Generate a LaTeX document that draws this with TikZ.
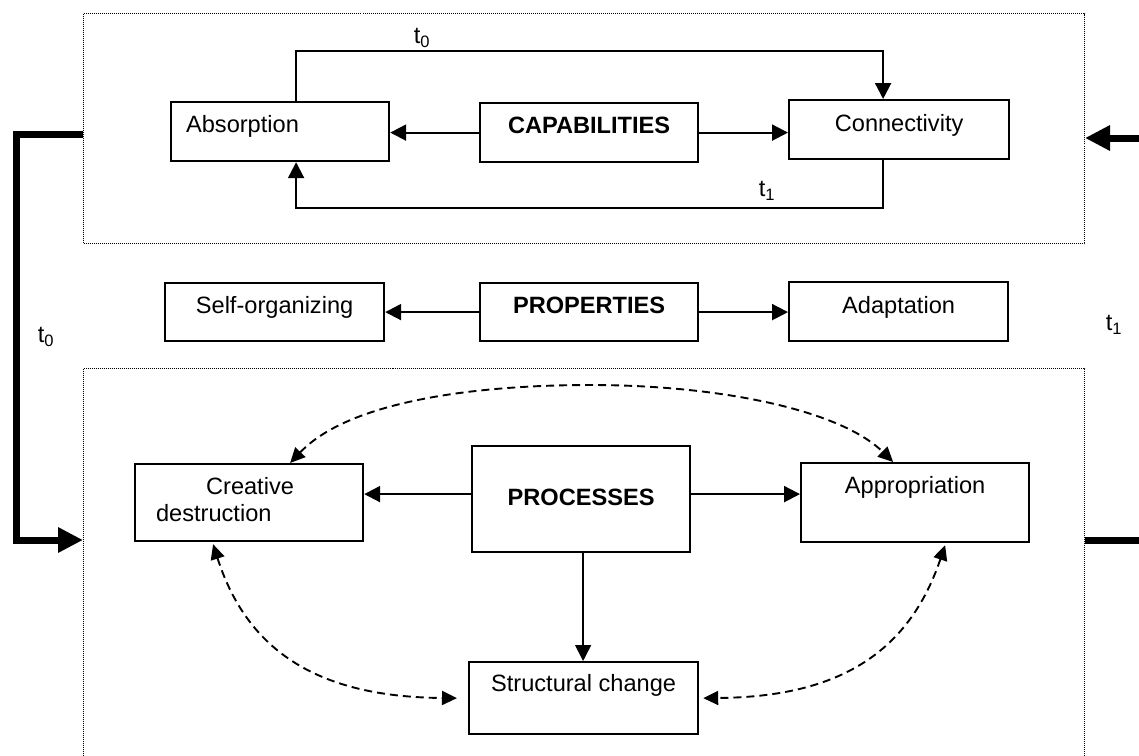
\documentclass[tikz,border=0pt]{standalone}
\usepackage{fontspec}
\setmainfont{Liberation Sans}
\usetikzlibrary{arrows.meta}
\newcommand{\fsz}{\fontsize{23.6}{27}\selectfont}
\begin{document}
\begin{tikzpicture}[x=1pt,y=-1pt,
  box/.style={draw, line width=2.2pt, anchor=north west, inner sep=0pt, font=\fsz},
  frame/.style={draw, line width=1pt, dash pattern=on 1pt off 1pt, anchor=north west, inner sep=0pt},
  arr/.style={line width=2.1pt, -{Triangle[length=16pt,width=16pt]}},
  thinarr/.style={line width=1.6pt, -{Triangle[length=16pt,width=16pt]}},
  darr/.style={line width=1.9pt, dash pattern=on 8pt off 5pt, {Triangle[length=15pt,width=14pt]}-{Triangle[length=15pt,width=14pt]}},
  thickline/.style={line width=7pt},
  thickarr/.style={line width=7pt, -{Triangle[length=25pt,width=24pt]}},
  lbl/.style={font=\fsz, inner sep=0pt}]
\useasboundingbox (0,0) rectangle (1139,755);
% frames
\node[frame, minimum width=1001pt, minimum height=230pt] (topframe) at (83,13) {};
\node[frame, minimum width=1001pt, minimum height=430pt] (botframe) at (83,368) {};
% capabilities row
\node[box, minimum width=218pt, minimum height=59pt, text height=30pt, text depth=29pt] (abs) at (170,101) {\makebox[188pt][l]{Absorption}};
\node[box, minimum width=218pt, minimum height=59pt, text height=30pt, text depth=29pt, font=\fsz\bfseries] (cap) at (479,102) {CAPABILITIES};
\node[box, minimum width=220pt, minimum height=59pt, text height=31pt, text depth=28pt] (con) at (788,99) {Connectivity};
% properties row
\node[box, minimum width=219pt, minimum height=58pt, text height=30pt, text depth=28pt] (self) at (164,282) {Self-organizing};
\node[box, minimum width=218pt, minimum height=58pt, text height=30pt, text depth=28pt, font=\fsz\bfseries] (prop) at (479,282) {PROPERTIES};
\node[box, minimum width=219pt, minimum height=59pt, text height=31pt, text depth=28pt] (adap) at (788,281) {Adaptation};
% processes
\node[box, minimum width=228pt, minimum height=77pt, text height=30pt, text depth=47pt] (cd) at (134,463) {\vtop{\hbox to 186pt{\hspace*{50pt}Creative\hfil}\hbox to 186pt{destruction\hfil}}};
\node[box, minimum width=218pt, minimum height=106pt, text height=59pt, text depth=47pt, font=\fsz\bfseries] (proc) at (471,445) {PROCESSES};
\node[box, minimum width=228pt, minimum height=79pt, text height=30pt, text depth=49pt] (app) at (800,462) {Appropriation};
\node[box, minimum width=229pt, minimum height=72pt, text height=29pt, text depth=43pt] (str) at (468,661) {Structural change};
% labels
\node[lbl] (lt0top) at (422,38) {t\textsubscript{0}};
\node[lbl] (lt1top) at (767,191) {t\textsubscript{1}};
\node[lbl] (lt0left) at (46,337) {t\textsubscript{0}};
\node[lbl] (lt1right) at (1114,325) {t\textsubscript{1}};
% capabilities connectors
\draw[arr] (cap.west) -- (cap.west -| abs.east);
\draw[arr] (cap.east) -- (cap.east -| con.west);
\coordinate (ytop) at (0,51);
\coordinate (ybot) at (0,208);
\draw[arr] ([xshift=16pt]abs.north) -- ([xshift=16pt]abs.north |- ytop) -| ([xshift=-16pt]con.north);
\draw[arr] ([xshift=-16pt]con.south) -- ([xshift=-16pt]con.south |- ybot) -| ([xshift=16pt]abs.south);
% properties connectors
\draw[arr] (prop.west) -- (prop.west -| self.east);
\draw[arr] (prop.east) -- (prop.east -| adap.west);
% processes connectors
\draw[arr] ([yshift=5pt]proc.west) -- ([yshift=5pt]proc.west -| cd.east);
\draw[arr] ([yshift=5pt]proc.east) -- ([yshift=5pt]proc.east -| app.west);
\draw[thinarr] ([xshift=2pt]proc.south) -- ([xshift=2pt]proc.south |- str.north);
% dashed relations
\coordinate (pk) at (590,385);
\draw[darr] ([xshift=41pt]cd.north) .. controls (350,400) and (480,385) .. (pk) .. controls (720,385) and (840,410) .. ([xshift=-22pt]app.north);
\draw[darr] ([xshift=-36pt,yshift=-2pt]cd.south) .. controls (250,660) and (330,697) .. ([xshift=-11pt]str.west);
\draw[darr] ([xshift=30pt,yshift=-2pt]app.south) .. controls (906,661) and (828,697) .. ([xshift=4pt]str.east);
% thick feedback arrows
\coordinate (lc1) at (16,134);
\coordinate (lc2) at (16,540);
\draw[thickarr] (topframe.west |- lc1) -- (lc1) -- (lc2) -- (botframe.west |- lc2);
\coordinate (rc1) at (1139,138);
\coordinate (rc2) at (1139,540);
\draw[thickarr] (rc1) -- (topframe.east |- rc1);
\draw[thickline] (botframe.east |- rc2) -- (rc2);
\end{tikzpicture}
\end{document}
